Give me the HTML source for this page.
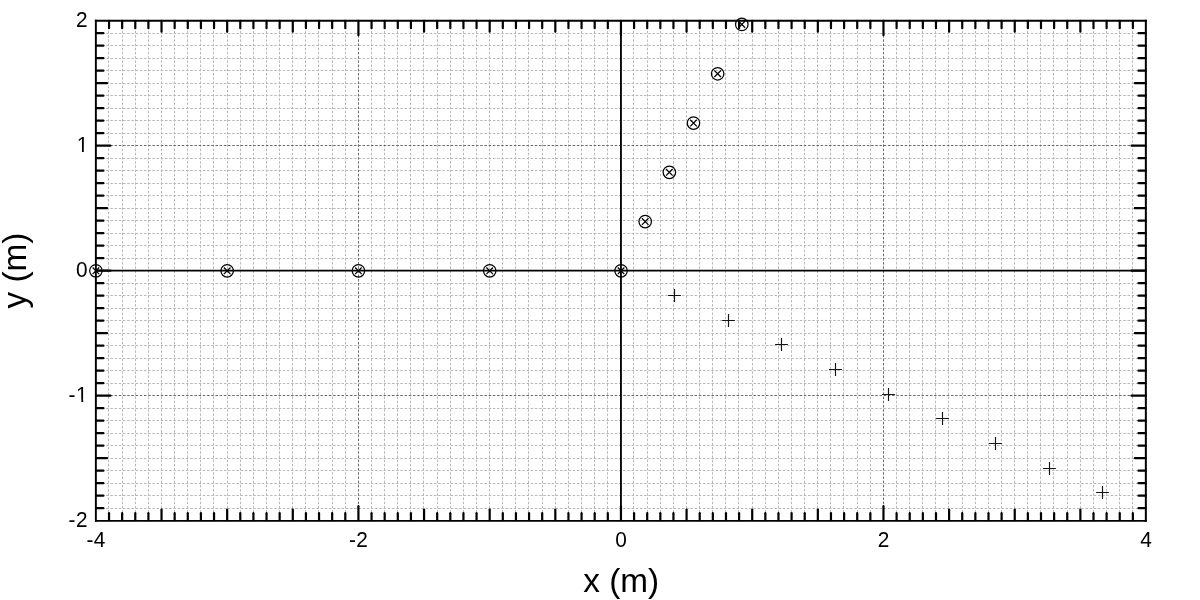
<!DOCTYPE html>
<html><head><meta charset="utf-8"><title>plot</title>
<style>
html,body{margin:0;padding:0;background:#fff;overflow:hidden}
svg{display:block}
text{font-family:"Liberation Sans",sans-serif;fill:#000}
</style></head><body>
<svg width="1200" height="600" viewBox="0 0 1200 600">
<rect width="1200" height="600" fill="#fff"/>
<g stroke="#b9b9b9" stroke-width="1" stroke-dasharray="2.5 1.703" fill="none">
<line x1="108.50" y1="20.67" x2="108.50" y2="520.70" stroke-dashoffset="2.35"/>
<line x1="122.50" y1="20.67" x2="122.50" y2="520.70" stroke-dashoffset="2.35"/>
<line x1="135.50" y1="20.67" x2="135.50" y2="520.70" stroke-dashoffset="2.35"/>
<line x1="148.50" y1="20.67" x2="148.50" y2="520.70" stroke-dashoffset="2.35"/>
<line x1="161.50" y1="20.67" x2="161.50" y2="520.70" stroke-dashoffset="2.35"/>
<line x1="174.50" y1="20.67" x2="174.50" y2="520.70" stroke-dashoffset="2.35"/>
<line x1="187.50" y1="20.67" x2="187.50" y2="520.70" stroke-dashoffset="2.35"/>
<line x1="200.50" y1="20.67" x2="200.50" y2="520.70" stroke-dashoffset="2.35"/>
<line x1="213.50" y1="20.67" x2="213.50" y2="520.70" stroke-dashoffset="2.35"/>
<line x1="227.50" y1="20.67" x2="227.50" y2="520.70" stroke-dashoffset="2.35"/>
<line x1="240.50" y1="20.67" x2="240.50" y2="520.70" stroke-dashoffset="2.35"/>
<line x1="253.50" y1="20.67" x2="253.50" y2="520.70" stroke-dashoffset="2.35"/>
<line x1="266.50" y1="20.67" x2="266.50" y2="520.70" stroke-dashoffset="2.35"/>
<line x1="279.50" y1="20.67" x2="279.50" y2="520.70" stroke-dashoffset="2.35"/>
<line x1="292.50" y1="20.67" x2="292.50" y2="520.70" stroke-dashoffset="2.35"/>
<line x1="305.50" y1="20.67" x2="305.50" y2="520.70" stroke-dashoffset="2.35"/>
<line x1="318.50" y1="20.67" x2="318.50" y2="520.70" stroke-dashoffset="2.35"/>
<line x1="332.50" y1="20.67" x2="332.50" y2="520.70" stroke-dashoffset="2.35"/>
<line x1="345.50" y1="20.67" x2="345.50" y2="520.70" stroke-dashoffset="2.35"/>
<line x1="371.50" y1="20.67" x2="371.50" y2="520.70" stroke-dashoffset="2.35"/>
<line x1="384.50" y1="20.67" x2="384.50" y2="520.70" stroke-dashoffset="2.35"/>
<line x1="397.50" y1="20.67" x2="397.50" y2="520.70" stroke-dashoffset="2.35"/>
<line x1="410.50" y1="20.67" x2="410.50" y2="520.70" stroke-dashoffset="2.35"/>
<line x1="423.50" y1="20.67" x2="423.50" y2="520.70" stroke-dashoffset="2.35"/>
<line x1="437.50" y1="20.67" x2="437.50" y2="520.70" stroke-dashoffset="2.35"/>
<line x1="450.50" y1="20.67" x2="450.50" y2="520.70" stroke-dashoffset="2.35"/>
<line x1="463.50" y1="20.67" x2="463.50" y2="520.70" stroke-dashoffset="2.35"/>
<line x1="476.50" y1="20.67" x2="476.50" y2="520.70" stroke-dashoffset="2.35"/>
<line x1="489.50" y1="20.67" x2="489.50" y2="520.70" stroke-dashoffset="2.35"/>
<line x1="502.50" y1="20.67" x2="502.50" y2="520.70" stroke-dashoffset="2.35"/>
<line x1="515.50" y1="20.67" x2="515.50" y2="520.70" stroke-dashoffset="2.35"/>
<line x1="528.50" y1="20.67" x2="528.50" y2="520.70" stroke-dashoffset="2.35"/>
<line x1="542.50" y1="20.67" x2="542.50" y2="520.70" stroke-dashoffset="2.35"/>
<line x1="555.50" y1="20.67" x2="555.50" y2="520.70" stroke-dashoffset="2.35"/>
<line x1="568.50" y1="20.67" x2="568.50" y2="520.70" stroke-dashoffset="2.35"/>
<line x1="581.50" y1="20.67" x2="581.50" y2="520.70" stroke-dashoffset="2.35"/>
<line x1="594.50" y1="20.67" x2="594.50" y2="520.70" stroke-dashoffset="2.35"/>
<line x1="607.50" y1="20.67" x2="607.50" y2="520.70" stroke-dashoffset="2.35"/>
<line x1="633.50" y1="20.67" x2="633.50" y2="520.70" stroke-dashoffset="2.35"/>
<line x1="647.50" y1="20.67" x2="647.50" y2="520.70" stroke-dashoffset="2.35"/>
<line x1="660.50" y1="20.67" x2="660.50" y2="520.70" stroke-dashoffset="2.35"/>
<line x1="673.50" y1="20.67" x2="673.50" y2="520.70" stroke-dashoffset="2.35"/>
<line x1="686.50" y1="20.67" x2="686.50" y2="520.70" stroke-dashoffset="2.35"/>
<line x1="699.50" y1="20.67" x2="699.50" y2="520.70" stroke-dashoffset="2.35"/>
<line x1="712.50" y1="20.67" x2="712.50" y2="520.70" stroke-dashoffset="2.35"/>
<line x1="725.50" y1="20.67" x2="725.50" y2="520.70" stroke-dashoffset="2.35"/>
<line x1="738.50" y1="20.67" x2="738.50" y2="520.70" stroke-dashoffset="2.35"/>
<line x1="752.50" y1="20.67" x2="752.50" y2="520.70" stroke-dashoffset="2.35"/>
<line x1="765.50" y1="20.67" x2="765.50" y2="520.70" stroke-dashoffset="2.35"/>
<line x1="778.50" y1="20.67" x2="778.50" y2="520.70" stroke-dashoffset="2.35"/>
<line x1="791.50" y1="20.67" x2="791.50" y2="520.70" stroke-dashoffset="2.35"/>
<line x1="804.50" y1="20.67" x2="804.50" y2="520.70" stroke-dashoffset="2.35"/>
<line x1="817.50" y1="20.67" x2="817.50" y2="520.70" stroke-dashoffset="2.35"/>
<line x1="830.50" y1="20.67" x2="830.50" y2="520.70" stroke-dashoffset="2.35"/>
<line x1="843.50" y1="20.67" x2="843.50" y2="520.70" stroke-dashoffset="2.35"/>
<line x1="857.50" y1="20.67" x2="857.50" y2="520.70" stroke-dashoffset="2.35"/>
<line x1="870.50" y1="20.67" x2="870.50" y2="520.70" stroke-dashoffset="2.35"/>
<line x1="896.50" y1="20.67" x2="896.50" y2="520.70" stroke-dashoffset="2.35"/>
<line x1="909.50" y1="20.67" x2="909.50" y2="520.70" stroke-dashoffset="2.35"/>
<line x1="922.50" y1="20.67" x2="922.50" y2="520.70" stroke-dashoffset="2.35"/>
<line x1="935.50" y1="20.67" x2="935.50" y2="520.70" stroke-dashoffset="2.35"/>
<line x1="948.50" y1="20.67" x2="948.50" y2="520.70" stroke-dashoffset="2.35"/>
<line x1="962.50" y1="20.67" x2="962.50" y2="520.70" stroke-dashoffset="2.35"/>
<line x1="975.50" y1="20.67" x2="975.50" y2="520.70" stroke-dashoffset="2.35"/>
<line x1="988.50" y1="20.67" x2="988.50" y2="520.70" stroke-dashoffset="2.35"/>
<line x1="1001.50" y1="20.67" x2="1001.50" y2="520.70" stroke-dashoffset="2.35"/>
<line x1="1014.50" y1="20.67" x2="1014.50" y2="520.70" stroke-dashoffset="2.35"/>
<line x1="1027.50" y1="20.67" x2="1027.50" y2="520.70" stroke-dashoffset="2.35"/>
<line x1="1040.50" y1="20.67" x2="1040.50" y2="520.70" stroke-dashoffset="2.35"/>
<line x1="1053.50" y1="20.67" x2="1053.50" y2="520.70" stroke-dashoffset="2.35"/>
<line x1="1067.50" y1="20.67" x2="1067.50" y2="520.70" stroke-dashoffset="2.35"/>
<line x1="1080.50" y1="20.67" x2="1080.50" y2="520.70" stroke-dashoffset="2.35"/>
<line x1="1093.50" y1="20.67" x2="1093.50" y2="520.70" stroke-dashoffset="2.35"/>
<line x1="1106.50" y1="20.67" x2="1106.50" y2="520.70" stroke-dashoffset="2.35"/>
<line x1="1119.50" y1="20.67" x2="1119.50" y2="520.70" stroke-dashoffset="2.35"/>
<line x1="1132.50" y1="20.67" x2="1132.50" y2="520.70" stroke-dashoffset="2.35"/>
<line x1="95.90" y1="33.50" x2="1146.00" y2="33.50" stroke-dashoffset="2.35"/>
<line x1="95.90" y1="45.50" x2="1146.00" y2="45.50" stroke-dashoffset="2.35"/>
<line x1="95.90" y1="58.50" x2="1146.00" y2="58.50" stroke-dashoffset="2.35"/>
<line x1="95.90" y1="70.50" x2="1146.00" y2="70.50" stroke-dashoffset="2.35"/>
<line x1="95.90" y1="83.50" x2="1146.00" y2="83.50" stroke-dashoffset="2.35"/>
<line x1="95.90" y1="95.50" x2="1146.00" y2="95.50" stroke-dashoffset="2.35"/>
<line x1="95.90" y1="108.50" x2="1146.00" y2="108.50" stroke-dashoffset="2.35"/>
<line x1="95.90" y1="120.50" x2="1146.00" y2="120.50" stroke-dashoffset="2.35"/>
<line x1="95.90" y1="133.50" x2="1146.00" y2="133.50" stroke-dashoffset="2.35"/>
<line x1="95.90" y1="158.50" x2="1146.00" y2="158.50" stroke-dashoffset="2.35"/>
<line x1="95.90" y1="170.50" x2="1146.00" y2="170.50" stroke-dashoffset="2.35"/>
<line x1="95.90" y1="183.50" x2="1146.00" y2="183.50" stroke-dashoffset="2.35"/>
<line x1="95.90" y1="195.50" x2="1146.00" y2="195.50" stroke-dashoffset="2.35"/>
<line x1="95.90" y1="208.50" x2="1146.00" y2="208.50" stroke-dashoffset="2.35"/>
<line x1="95.90" y1="220.50" x2="1146.00" y2="220.50" stroke-dashoffset="2.35"/>
<line x1="95.90" y1="233.50" x2="1146.00" y2="233.50" stroke-dashoffset="2.35"/>
<line x1="95.90" y1="245.50" x2="1146.00" y2="245.50" stroke-dashoffset="2.35"/>
<line x1="95.90" y1="258.50" x2="1146.00" y2="258.50" stroke-dashoffset="2.35"/>
<line x1="95.90" y1="283.50" x2="1146.00" y2="283.50" stroke-dashoffset="2.35"/>
<line x1="95.90" y1="295.50" x2="1146.00" y2="295.50" stroke-dashoffset="2.35"/>
<line x1="95.90" y1="308.50" x2="1146.00" y2="308.50" stroke-dashoffset="2.35"/>
<line x1="95.90" y1="320.50" x2="1146.00" y2="320.50" stroke-dashoffset="2.35"/>
<line x1="95.90" y1="333.50" x2="1146.00" y2="333.50" stroke-dashoffset="2.35"/>
<line x1="95.90" y1="345.50" x2="1146.00" y2="345.50" stroke-dashoffset="2.35"/>
<line x1="95.90" y1="358.50" x2="1146.00" y2="358.50" stroke-dashoffset="2.35"/>
<line x1="95.90" y1="370.50" x2="1146.00" y2="370.50" stroke-dashoffset="2.35"/>
<line x1="95.90" y1="383.50" x2="1146.00" y2="383.50" stroke-dashoffset="2.35"/>
<line x1="95.90" y1="408.50" x2="1146.00" y2="408.50" stroke-dashoffset="2.35"/>
<line x1="95.90" y1="420.50" x2="1146.00" y2="420.50" stroke-dashoffset="2.35"/>
<line x1="95.90" y1="433.50" x2="1146.00" y2="433.50" stroke-dashoffset="2.35"/>
<line x1="95.90" y1="445.50" x2="1146.00" y2="445.50" stroke-dashoffset="2.35"/>
<line x1="95.90" y1="458.50" x2="1146.00" y2="458.50" stroke-dashoffset="2.35"/>
<line x1="95.90" y1="470.50" x2="1146.00" y2="470.50" stroke-dashoffset="2.35"/>
<line x1="95.90" y1="483.50" x2="1146.00" y2="483.50" stroke-dashoffset="2.35"/>
<line x1="95.90" y1="495.50" x2="1146.00" y2="495.50" stroke-dashoffset="2.35"/>
<line x1="95.90" y1="508.50" x2="1146.00" y2="508.50" stroke-dashoffset="2.35"/>
</g>
<g stroke="#6a6a6a" stroke-width="1" stroke-dasharray="2.5 1.703" fill="none">
<line x1="358.50" y1="20.67" x2="358.50" y2="520.70" stroke-dashoffset="2.35"/>
<line x1="883.50" y1="20.67" x2="883.50" y2="520.70" stroke-dashoffset="2.35"/>
<line x1="95.90" y1="145.50" x2="1146.00" y2="145.50" stroke-dashoffset="2.35"/>
<line x1="95.90" y1="395.50" x2="1146.00" y2="395.50" stroke-dashoffset="2.35"/>
</g>
<g stroke="#000" stroke-width="1.85">
<line x1="620.95" y1="20.67" x2="620.95" y2="520.70"/>
<line x1="95.90" y1="270.69" x2="1146.00" y2="270.69"/>
</g>
<g stroke="#000" stroke-width="2.2" stroke-linecap="round" fill="none">
<line x1="109.03" y1="20.97" x2="109.03" y2="28.17"/><line x1="109.03" y1="520.25" x2="109.03" y2="513.20"/>
<line x1="122.15" y1="20.97" x2="122.15" y2="28.17"/><line x1="122.15" y1="520.25" x2="122.15" y2="513.20"/>
<line x1="135.28" y1="20.97" x2="135.28" y2="28.17"/><line x1="135.28" y1="520.25" x2="135.28" y2="513.20"/>
<line x1="148.40" y1="20.97" x2="148.40" y2="28.17"/><line x1="148.40" y1="520.25" x2="148.40" y2="513.20"/>
<line x1="161.53" y1="20.97" x2="161.53" y2="31.77"/><line x1="161.53" y1="520.25" x2="161.53" y2="509.60"/>
<line x1="174.66" y1="20.97" x2="174.66" y2="28.17"/><line x1="174.66" y1="520.25" x2="174.66" y2="513.20"/>
<line x1="187.78" y1="20.97" x2="187.78" y2="28.17"/><line x1="187.78" y1="520.25" x2="187.78" y2="513.20"/>
<line x1="200.91" y1="20.97" x2="200.91" y2="28.17"/><line x1="200.91" y1="520.25" x2="200.91" y2="513.20"/>
<line x1="214.04" y1="20.97" x2="214.04" y2="28.17"/><line x1="214.04" y1="520.25" x2="214.04" y2="513.20"/>
<line x1="227.16" y1="20.97" x2="227.16" y2="31.77"/><line x1="227.16" y1="520.25" x2="227.16" y2="509.60"/>
<line x1="240.29" y1="20.97" x2="240.29" y2="28.17"/><line x1="240.29" y1="520.25" x2="240.29" y2="513.20"/>
<line x1="253.42" y1="20.97" x2="253.42" y2="28.17"/><line x1="253.42" y1="520.25" x2="253.42" y2="513.20"/>
<line x1="266.54" y1="20.97" x2="266.54" y2="28.17"/><line x1="266.54" y1="520.25" x2="266.54" y2="513.20"/>
<line x1="279.67" y1="20.97" x2="279.67" y2="28.17"/><line x1="279.67" y1="520.25" x2="279.67" y2="513.20"/>
<line x1="292.79" y1="20.97" x2="292.79" y2="31.77"/><line x1="292.79" y1="520.25" x2="292.79" y2="509.60"/>
<line x1="305.92" y1="20.97" x2="305.92" y2="28.17"/><line x1="305.92" y1="520.25" x2="305.92" y2="513.20"/>
<line x1="319.05" y1="20.97" x2="319.05" y2="28.17"/><line x1="319.05" y1="520.25" x2="319.05" y2="513.20"/>
<line x1="332.17" y1="20.97" x2="332.17" y2="28.17"/><line x1="332.17" y1="520.25" x2="332.17" y2="513.20"/>
<line x1="345.30" y1="20.97" x2="345.30" y2="28.17"/><line x1="345.30" y1="520.25" x2="345.30" y2="513.20"/>
<line x1="358.42" y1="20.97" x2="358.42" y2="35.17"/><line x1="358.42" y1="520.25" x2="358.42" y2="506.20"/>
<line x1="371.55" y1="20.97" x2="371.55" y2="28.17"/><line x1="371.55" y1="520.25" x2="371.55" y2="513.20"/>
<line x1="384.68" y1="20.97" x2="384.68" y2="28.17"/><line x1="384.68" y1="520.25" x2="384.68" y2="513.20"/>
<line x1="397.80" y1="20.97" x2="397.80" y2="28.17"/><line x1="397.80" y1="520.25" x2="397.80" y2="513.20"/>
<line x1="410.93" y1="20.97" x2="410.93" y2="28.17"/><line x1="410.93" y1="520.25" x2="410.93" y2="513.20"/>
<line x1="424.06" y1="20.97" x2="424.06" y2="31.77"/><line x1="424.06" y1="520.25" x2="424.06" y2="509.60"/>
<line x1="437.18" y1="20.97" x2="437.18" y2="28.17"/><line x1="437.18" y1="520.25" x2="437.18" y2="513.20"/>
<line x1="450.31" y1="20.97" x2="450.31" y2="28.17"/><line x1="450.31" y1="520.25" x2="450.31" y2="513.20"/>
<line x1="463.44" y1="20.97" x2="463.44" y2="28.17"/><line x1="463.44" y1="520.25" x2="463.44" y2="513.20"/>
<line x1="476.56" y1="20.97" x2="476.56" y2="28.17"/><line x1="476.56" y1="520.25" x2="476.56" y2="513.20"/>
<line x1="489.69" y1="20.97" x2="489.69" y2="31.77"/><line x1="489.69" y1="520.25" x2="489.69" y2="509.60"/>
<line x1="502.81" y1="20.97" x2="502.81" y2="28.17"/><line x1="502.81" y1="520.25" x2="502.81" y2="513.20"/>
<line x1="515.94" y1="20.97" x2="515.94" y2="28.17"/><line x1="515.94" y1="520.25" x2="515.94" y2="513.20"/>
<line x1="529.07" y1="20.97" x2="529.07" y2="28.17"/><line x1="529.07" y1="520.25" x2="529.07" y2="513.20"/>
<line x1="542.19" y1="20.97" x2="542.19" y2="28.17"/><line x1="542.19" y1="520.25" x2="542.19" y2="513.20"/>
<line x1="555.32" y1="20.97" x2="555.32" y2="31.77"/><line x1="555.32" y1="520.25" x2="555.32" y2="509.60"/>
<line x1="568.44" y1="20.97" x2="568.44" y2="28.17"/><line x1="568.44" y1="520.25" x2="568.44" y2="513.20"/>
<line x1="581.57" y1="20.97" x2="581.57" y2="28.17"/><line x1="581.57" y1="520.25" x2="581.57" y2="513.20"/>
<line x1="594.70" y1="20.97" x2="594.70" y2="28.17"/><line x1="594.70" y1="520.25" x2="594.70" y2="513.20"/>
<line x1="607.82" y1="20.97" x2="607.82" y2="28.17"/><line x1="607.82" y1="520.25" x2="607.82" y2="513.20"/>
<line x1="620.95" y1="20.97" x2="620.95" y2="35.17"/><line x1="620.95" y1="520.25" x2="620.95" y2="506.20"/>
<line x1="634.08" y1="20.97" x2="634.08" y2="28.17"/><line x1="634.08" y1="520.25" x2="634.08" y2="513.20"/>
<line x1="647.20" y1="20.97" x2="647.20" y2="28.17"/><line x1="647.20" y1="520.25" x2="647.20" y2="513.20"/>
<line x1="660.33" y1="20.97" x2="660.33" y2="28.17"/><line x1="660.33" y1="520.25" x2="660.33" y2="513.20"/>
<line x1="673.45" y1="20.97" x2="673.45" y2="28.17"/><line x1="673.45" y1="520.25" x2="673.45" y2="513.20"/>
<line x1="686.58" y1="20.97" x2="686.58" y2="31.77"/><line x1="686.58" y1="520.25" x2="686.58" y2="509.60"/>
<line x1="699.71" y1="20.97" x2="699.71" y2="28.17"/><line x1="699.71" y1="520.25" x2="699.71" y2="513.20"/>
<line x1="712.83" y1="20.97" x2="712.83" y2="28.17"/><line x1="712.83" y1="520.25" x2="712.83" y2="513.20"/>
<line x1="725.96" y1="20.97" x2="725.96" y2="28.17"/><line x1="725.96" y1="520.25" x2="725.96" y2="513.20"/>
<line x1="739.09" y1="20.97" x2="739.09" y2="28.17"/><line x1="739.09" y1="520.25" x2="739.09" y2="513.20"/>
<line x1="752.21" y1="20.97" x2="752.21" y2="31.77"/><line x1="752.21" y1="520.25" x2="752.21" y2="509.60"/>
<line x1="765.34" y1="20.97" x2="765.34" y2="28.17"/><line x1="765.34" y1="520.25" x2="765.34" y2="513.20"/>
<line x1="778.46" y1="20.97" x2="778.46" y2="28.17"/><line x1="778.46" y1="520.25" x2="778.46" y2="513.20"/>
<line x1="791.59" y1="20.97" x2="791.59" y2="28.17"/><line x1="791.59" y1="520.25" x2="791.59" y2="513.20"/>
<line x1="804.72" y1="20.97" x2="804.72" y2="28.17"/><line x1="804.72" y1="520.25" x2="804.72" y2="513.20"/>
<line x1="817.84" y1="20.97" x2="817.84" y2="31.77"/><line x1="817.84" y1="520.25" x2="817.84" y2="509.60"/>
<line x1="830.97" y1="20.97" x2="830.97" y2="28.17"/><line x1="830.97" y1="520.25" x2="830.97" y2="513.20"/>
<line x1="844.10" y1="20.97" x2="844.10" y2="28.17"/><line x1="844.10" y1="520.25" x2="844.10" y2="513.20"/>
<line x1="857.22" y1="20.97" x2="857.22" y2="28.17"/><line x1="857.22" y1="520.25" x2="857.22" y2="513.20"/>
<line x1="870.35" y1="20.97" x2="870.35" y2="28.17"/><line x1="870.35" y1="520.25" x2="870.35" y2="513.20"/>
<line x1="883.47" y1="20.97" x2="883.47" y2="35.17"/><line x1="883.47" y1="520.25" x2="883.47" y2="506.20"/>
<line x1="896.60" y1="20.97" x2="896.60" y2="28.17"/><line x1="896.60" y1="520.25" x2="896.60" y2="513.20"/>
<line x1="909.73" y1="20.97" x2="909.73" y2="28.17"/><line x1="909.73" y1="520.25" x2="909.73" y2="513.20"/>
<line x1="922.85" y1="20.97" x2="922.85" y2="28.17"/><line x1="922.85" y1="520.25" x2="922.85" y2="513.20"/>
<line x1="935.98" y1="20.97" x2="935.98" y2="28.17"/><line x1="935.98" y1="520.25" x2="935.98" y2="513.20"/>
<line x1="949.11" y1="20.97" x2="949.11" y2="31.77"/><line x1="949.11" y1="520.25" x2="949.11" y2="509.60"/>
<line x1="962.23" y1="20.97" x2="962.23" y2="28.17"/><line x1="962.23" y1="520.25" x2="962.23" y2="513.20"/>
<line x1="975.36" y1="20.97" x2="975.36" y2="28.17"/><line x1="975.36" y1="520.25" x2="975.36" y2="513.20"/>
<line x1="988.49" y1="20.97" x2="988.49" y2="28.17"/><line x1="988.49" y1="520.25" x2="988.49" y2="513.20"/>
<line x1="1001.61" y1="20.97" x2="1001.61" y2="28.17"/><line x1="1001.61" y1="520.25" x2="1001.61" y2="513.20"/>
<line x1="1014.74" y1="20.97" x2="1014.74" y2="31.77"/><line x1="1014.74" y1="520.25" x2="1014.74" y2="509.60"/>
<line x1="1027.86" y1="20.97" x2="1027.86" y2="28.17"/><line x1="1027.86" y1="520.25" x2="1027.86" y2="513.20"/>
<line x1="1040.99" y1="20.97" x2="1040.99" y2="28.17"/><line x1="1040.99" y1="520.25" x2="1040.99" y2="513.20"/>
<line x1="1054.12" y1="20.97" x2="1054.12" y2="28.17"/><line x1="1054.12" y1="520.25" x2="1054.12" y2="513.20"/>
<line x1="1067.24" y1="20.97" x2="1067.24" y2="28.17"/><line x1="1067.24" y1="520.25" x2="1067.24" y2="513.20"/>
<line x1="1080.37" y1="20.97" x2="1080.37" y2="31.77"/><line x1="1080.37" y1="520.25" x2="1080.37" y2="509.60"/>
<line x1="1093.50" y1="20.97" x2="1093.50" y2="28.17"/><line x1="1093.50" y1="520.25" x2="1093.50" y2="513.20"/>
<line x1="1106.62" y1="20.97" x2="1106.62" y2="28.17"/><line x1="1106.62" y1="520.25" x2="1106.62" y2="513.20"/>
<line x1="1119.75" y1="20.97" x2="1119.75" y2="28.17"/><line x1="1119.75" y1="520.25" x2="1119.75" y2="513.20"/>
<line x1="1132.87" y1="20.97" x2="1132.87" y2="28.17"/><line x1="1132.87" y1="520.25" x2="1132.87" y2="513.20"/>
<line x1="96.20" y1="33.17" x2="103.40" y2="33.17"/><line x1="1145.70" y1="33.17" x2="1138.50" y2="33.17"/>
<line x1="96.20" y1="45.67" x2="103.40" y2="45.67"/><line x1="1145.70" y1="45.67" x2="1138.50" y2="45.67"/>
<line x1="96.20" y1="58.17" x2="103.40" y2="58.17"/><line x1="1145.70" y1="58.17" x2="1138.50" y2="58.17"/>
<line x1="96.20" y1="70.67" x2="103.40" y2="70.67"/><line x1="1145.70" y1="70.67" x2="1138.50" y2="70.67"/>
<line x1="96.20" y1="83.17" x2="107.00" y2="83.17"/><line x1="1145.70" y1="83.17" x2="1134.90" y2="83.17"/>
<line x1="96.20" y1="95.67" x2="103.40" y2="95.67"/><line x1="1145.70" y1="95.67" x2="1138.50" y2="95.67"/>
<line x1="96.20" y1="108.18" x2="103.40" y2="108.18"/><line x1="1145.70" y1="108.18" x2="1138.50" y2="108.18"/>
<line x1="96.20" y1="120.68" x2="103.40" y2="120.68"/><line x1="1145.70" y1="120.68" x2="1138.50" y2="120.68"/>
<line x1="96.20" y1="133.18" x2="103.40" y2="133.18"/><line x1="1145.70" y1="133.18" x2="1138.50" y2="133.18"/>
<line x1="96.20" y1="145.68" x2="110.40" y2="145.68"/><line x1="1145.70" y1="145.68" x2="1131.50" y2="145.68"/>
<line x1="96.20" y1="158.18" x2="103.40" y2="158.18"/><line x1="1145.70" y1="158.18" x2="1138.50" y2="158.18"/>
<line x1="96.20" y1="170.68" x2="103.40" y2="170.68"/><line x1="1145.70" y1="170.68" x2="1138.50" y2="170.68"/>
<line x1="96.20" y1="183.18" x2="103.40" y2="183.18"/><line x1="1145.70" y1="183.18" x2="1138.50" y2="183.18"/>
<line x1="96.20" y1="195.68" x2="103.40" y2="195.68"/><line x1="1145.70" y1="195.68" x2="1138.50" y2="195.68"/>
<line x1="96.20" y1="208.18" x2="107.00" y2="208.18"/><line x1="1145.70" y1="208.18" x2="1134.90" y2="208.18"/>
<line x1="96.20" y1="220.68" x2="103.40" y2="220.68"/><line x1="1145.70" y1="220.68" x2="1138.50" y2="220.68"/>
<line x1="96.20" y1="233.18" x2="103.40" y2="233.18"/><line x1="1145.70" y1="233.18" x2="1138.50" y2="233.18"/>
<line x1="96.20" y1="245.68" x2="103.40" y2="245.68"/><line x1="1145.70" y1="245.68" x2="1138.50" y2="245.68"/>
<line x1="96.20" y1="258.18" x2="103.40" y2="258.18"/><line x1="1145.70" y1="258.18" x2="1138.50" y2="258.18"/>
<line x1="96.20" y1="270.69" x2="110.40" y2="270.69"/><line x1="1145.70" y1="270.69" x2="1131.50" y2="270.69"/>
<line x1="96.20" y1="283.19" x2="103.40" y2="283.19"/><line x1="1145.70" y1="283.19" x2="1138.50" y2="283.19"/>
<line x1="96.20" y1="295.69" x2="103.40" y2="295.69"/><line x1="1145.70" y1="295.69" x2="1138.50" y2="295.69"/>
<line x1="96.20" y1="308.19" x2="103.40" y2="308.19"/><line x1="1145.70" y1="308.19" x2="1138.50" y2="308.19"/>
<line x1="96.20" y1="320.69" x2="103.40" y2="320.69"/><line x1="1145.70" y1="320.69" x2="1138.50" y2="320.69"/>
<line x1="96.20" y1="333.19" x2="107.00" y2="333.19"/><line x1="1145.70" y1="333.19" x2="1134.90" y2="333.19"/>
<line x1="96.20" y1="345.69" x2="103.40" y2="345.69"/><line x1="1145.70" y1="345.69" x2="1138.50" y2="345.69"/>
<line x1="96.20" y1="358.19" x2="103.40" y2="358.19"/><line x1="1145.70" y1="358.19" x2="1138.50" y2="358.19"/>
<line x1="96.20" y1="370.69" x2="103.40" y2="370.69"/><line x1="1145.70" y1="370.69" x2="1138.50" y2="370.69"/>
<line x1="96.20" y1="383.19" x2="103.40" y2="383.19"/><line x1="1145.70" y1="383.19" x2="1138.50" y2="383.19"/>
<line x1="96.20" y1="395.69" x2="110.40" y2="395.69"/><line x1="1145.70" y1="395.69" x2="1131.50" y2="395.69"/>
<line x1="96.20" y1="408.19" x2="103.40" y2="408.19"/><line x1="1145.70" y1="408.19" x2="1138.50" y2="408.19"/>
<line x1="96.20" y1="420.69" x2="103.40" y2="420.69"/><line x1="1145.70" y1="420.69" x2="1138.50" y2="420.69"/>
<line x1="96.20" y1="433.19" x2="103.40" y2="433.19"/><line x1="1145.70" y1="433.19" x2="1138.50" y2="433.19"/>
<line x1="96.20" y1="445.70" x2="103.40" y2="445.70"/><line x1="1145.70" y1="445.70" x2="1138.50" y2="445.70"/>
<line x1="96.20" y1="458.20" x2="107.00" y2="458.20"/><line x1="1145.70" y1="458.20" x2="1134.90" y2="458.20"/>
<line x1="96.20" y1="470.70" x2="103.40" y2="470.70"/><line x1="1145.70" y1="470.70" x2="1138.50" y2="470.70"/>
<line x1="96.20" y1="483.20" x2="103.40" y2="483.20"/><line x1="1145.70" y1="483.20" x2="1138.50" y2="483.20"/>
<line x1="96.20" y1="495.70" x2="103.40" y2="495.70"/><line x1="1145.70" y1="495.70" x2="1138.50" y2="495.70"/>
<line x1="96.20" y1="508.20" x2="103.40" y2="508.20"/><line x1="1145.70" y1="508.20" x2="1138.50" y2="508.20"/>
</g>
<g stroke="#000" stroke-linecap="square" fill="none">
<line x1="95.87" y1="20.7" x2="1145.85" y2="20.7" stroke-width="2"/>
<line x1="95.87" y1="520.85" x2="1145.85" y2="520.85" stroke-width="1.7"/>
<line x1="95.87" y1="20.7" x2="95.87" y2="520.85" stroke-width="1.9"/>
<line x1="1145.85" y1="20.7" x2="1145.85" y2="520.85" stroke-width="2"/>
</g>
<g stroke="#000" stroke-width="1.25" fill="none">
<circle cx="621.05" cy="270.83" r="6.25"/><path d="M617.75 267.53L624.35 274.13M617.75 274.13L624.35 267.53"/>
<circle cx="645.20" cy="221.56" r="6.25"/><path d="M641.90 218.26L648.50 224.86M641.90 224.86L648.50 218.26"/>
<circle cx="669.35" cy="172.29" r="6.25"/><path d="M666.05 168.99L672.65 175.59M666.05 175.59L672.65 168.99"/>
<circle cx="693.50" cy="123.02" r="6.25"/><path d="M690.20 119.72L696.80 126.32M690.20 126.32L696.80 119.72"/>
<circle cx="717.65" cy="73.75" r="6.25"/><path d="M714.35 70.45L720.95 77.05M714.35 77.05L720.95 70.45"/>
<circle cx="741.80" cy="24.48" r="6.25"/><path d="M738.50 21.18L745.10 27.78M738.50 27.78L745.10 21.18"/>
<circle cx="489.69" cy="270.83" r="6.25"/><path d="M486.39 267.53L492.99 274.13M486.39 274.13L492.99 267.53"/>
<circle cx="358.42" cy="270.83" r="6.25"/><path d="M355.12 267.53L361.72 274.13M355.12 274.13L361.72 267.53"/>
<circle cx="227.16" cy="270.83" r="6.25"/><path d="M223.86 267.53L230.46 274.13M223.86 274.13L230.46 267.53"/>
<circle cx="95.90" cy="270.83" r="6.25"/><path d="M92.60 267.53L99.20 274.13M92.60 274.13L99.20 267.53"/>
</g>
<g stroke="#141414" stroke-width="1.15" fill="none">
<path d="M668.10 295.50H680.90M674.50 289.10V301.90"/>
<path d="M722.10 320.50H734.90M728.50 314.10V326.90"/>
<path d="M775.10 344.50H787.90M781.50 338.10V350.90"/>
<path d="M829.10 369.50H841.90M835.50 363.10V375.90"/>
<path d="M882.10 394.50H894.90M888.50 388.10V400.90"/>
<path d="M936.10 418.50H948.90M942.50 412.10V424.90"/>
<path d="M989.10 443.50H1001.90M995.50 437.10V449.90"/>
<path d="M1043.10 468.50H1055.90M1049.50 462.10V474.90"/>
<path d="M1096.10 492.50H1108.90M1102.50 486.10V498.90"/>
</g>
<g font-size="20.83" text-anchor="middle">
<text transform="translate(96.15 546.85) scale(1 1.045)" letter-spacing="0.3">-4</text>
<text transform="translate(358.67 546.85) scale(1 1.045)" letter-spacing="0.3">-2</text>
<text transform="translate(621.05 546.85) scale(1 1.045)">0</text>
<text transform="translate(883.57 546.85) scale(1 1.045)">2</text>
<text transform="translate(1146.10 546.85) scale(1 1.045)">4</text>
</g>
<g font-size="20.83" text-anchor="end">
<g transform="translate(87.70 27.07) scale(1 1.045)"><text>2</text></g>
<g transform="translate(88.30 152.08) scale(1 1.045)"><text>1</text><rect x="-11.381" y="-2.556" width="5.035" height="3.156" fill="#fff"/><rect x="-4.506" y="-2.556" width="4.109" height="3.156" fill="#fff"/></g>
<g transform="translate(87.70 277.08) scale(1 1.045)"><text>0</text></g>
<g transform="translate(88.40 402.09) scale(1 1.045)"><text letter-spacing="0.7">-1</text><rect x="-12.081" y="-2.556" width="5.035" height="3.156" fill="#fff"/><rect x="-5.206" y="-2.556" width="4.109" height="3.156" fill="#fff"/></g>
<g transform="translate(88.40 527.10) scale(1 1.045)"><text letter-spacing="0.7">-2</text></g>
</g>
<text x="621.2" y="592.3" font-size="33.33" text-anchor="middle">x (m)</text>
<text transform="translate(25.9 270.6) rotate(-90)" font-size="33.33" text-anchor="middle">y (m)</text>
</svg>
</body></html>
